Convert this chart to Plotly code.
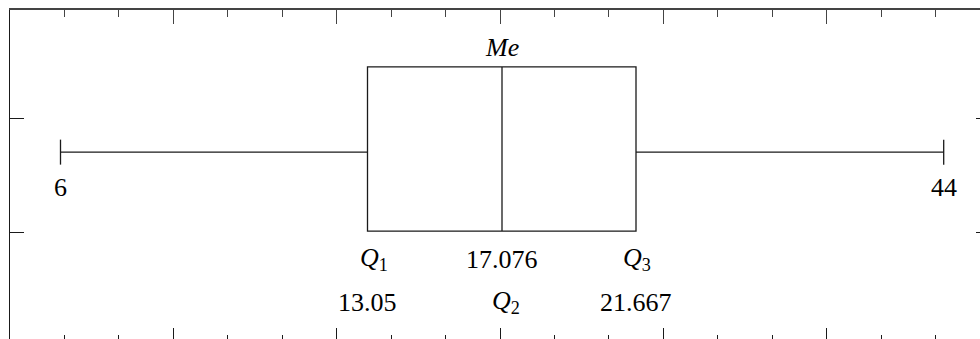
import plotly.graph_objects as go

# Five-number summary shown on the schematic box plot
stat_keys = ["min", "q1", "median", "q3", "max"]
stat_values = [6, 13.05, 17.076, 21.667, 44]
quartile_labels = ["<i>Q</i><sub>1</sub>", "<i>Q</i><sub>2</sub>", "<i>Q</i><sub>3</sub>"]
median_title = "<i>Me</i>"

# --- layout geometry -------------------------------------------------------
FIG_W, FIG_H = 980, 339
L, T = 10, 10
PW, PH = FIG_W - L, FIG_H - T
# horizontal pixel anchor of each summary value (schematic, not to scale)
anchor_px = [60.5, 367.5, 502, 636, 943.7]

# vertical positions as fractions of the plot height
WHISKER_Y = 0.568
CAP_HALF = 0.038
BOX_TOP, BOX_BOT = 0.827, 0.328
ME_Y = 0.885
END_LBL_Y = 0.462
ROW1_Y, ROW2_Y = 0.243, 0.112

FONT = "Liberation Serif, Times New Roman, serif"
INK = "#1a1a1a"
LW = 1.3


def segment_range(i):
    """Linear range for the axis spanning summary values i..i+1."""
    v0, v1 = stat_values[i], stat_values[i + 1]
    p0, p1 = anchor_px[i], anchor_px[i + 1]
    s = (p1 - p0) / (v1 - v0)
    r0 = v0 - (p0 - L) / s
    return [r0, r0 + PW / s]


seg_axes = ["x", "x2", "x3", "x4"]
vmin, q1, med, q3, vmax = stat_values

fig = go.Figure()
line = dict(color=INK, width=LW)

# lower whisker with end cap
fig.add_trace(go.Scatter(
    x=[vmin, q1, None, vmin, vmin],
    y=[WHISKER_Y, WHISKER_Y, None, WHISKER_Y - CAP_HALF, WHISKER_Y + CAP_HALF],
    xaxis="x", yaxis="y", mode="lines", line=line, hoverinfo="skip"))
# left half of the box plus median line
fig.add_trace(go.Scatter(
    x=[med, q1, q1, med, None, med, med],
    y=[BOX_TOP, BOX_TOP, BOX_BOT, BOX_BOT, None, BOX_BOT, BOX_TOP],
    xaxis="x2", yaxis="y", mode="lines", line=line, hoverinfo="skip"))
# right half of the box
fig.add_trace(go.Scatter(
    x=[med, q3, q3, med],
    y=[BOX_TOP, BOX_TOP, BOX_BOT, BOX_BOT],
    xaxis="x3", yaxis="y", mode="lines", line=line, hoverinfo="skip"))
# upper whisker with end cap
fig.add_trace(go.Scatter(
    x=[q3, vmax, None, vmax, vmax],
    y=[WHISKER_Y, WHISKER_Y, None, WHISKER_Y - CAP_HALF, WHISKER_Y + CAP_HALF],
    xaxis="x4", yaxis="y", mode="lines", line=line, hoverinfo="skip"))

big = dict(family=FONT, size=26, color="black")


def note(text, x, xref, y, xshift=0):
    fig.add_annotation(text=text, x=x, xref=xref, y=y, yref="y",
                       showarrow=False, xanchor="center", yanchor="middle",
                       xshift=xshift, font=big)


def fmt(v):
    return f"{v:g}"


note(fmt(vmin), vmin, "x", END_LBL_Y)
note(fmt(vmax), vmax, "x4", END_LBL_Y)
note(median_title, med, "x2", ME_Y)
note(quartile_labels[0], q1, "x2", ROW1_Y, xshift=6)
note(fmt(q1), q1, "x2", ROW2_Y)
note(fmt(med), med, "x2", ROW1_Y)
note(quartile_labels[1], med, "x2", ROW2_Y, xshift=4)
note(quartile_labels[2], q3, "x3", ROW1_Y, xshift=1)
note(fmt(q3), q3, "x3", ROW2_Y)

hidden = dict(visible=False, showgrid=False, zeroline=False)
layout = dict(
    width=FIG_W, height=FIG_H,
    margin=dict(l=L, r=0, t=T, b=0),
    paper_bgcolor="white", plot_bgcolor="white",
    showlegend=False,
    yaxis=dict(range=[0, 1], fixedrange=True, **hidden),
)
for i, ax in enumerate(seg_axes):
    key = "xaxis" if ax == "x" else "xaxis" + ax[1:]
    cfg = dict(range=segment_range(i), anchor="y", **hidden)
    if ax != "x":
        cfg["overlaying"] = "x"
    layout[key] = cfg

# decorative frame: 6 major intervals across the full frame width
FRAME_W = 980
frame_range = [0, 6 * PW / FRAME_W]
frame_color = "#444"
# vertical frame ticks: spacing of 114 px
y_range = [7 / 114, (FIG_H + 7 - T) / 114]

# invisible anchors so the frame axes get drawn
for xa, ya in (("x5", "y2"), ("x6", "y3")):
    fig.add_trace(go.Scatter(x=[1], y=[1], xaxis=xa, yaxis=ya, mode="markers",
                             marker=dict(opacity=0), hoverinfo="skip"))

layout["xaxis5"] = dict(
    overlaying="x", anchor="y2", side="top", range=frame_range,
    showline=True, linecolor=frame_color, linewidth=1.6,
    ticks="inside", ticklen=14, tickwidth=1.3, tickcolor=frame_color,
    dtick=1, tick0=0, showticklabels=False, showgrid=False, zeroline=False,
    minor=dict(dtick=1 / 3, ticks="inside", ticklen=7, tickwidth=1.3,
               tickcolor=frame_color, showgrid=False),
)
layout["xaxis6"] = dict(
    overlaying="x", anchor="y3", side="bottom", range=frame_range,
    showline=False, ticks="inside", ticklen=11, tickwidth=1.1, tickcolor=INK,
    dtick=1, tick0=0, showticklabels=False, showgrid=False, zeroline=False,
    minor=dict(dtick=1 / 3, ticks="inside", ticklen=4, tickwidth=1.1,
               tickcolor=INK, showgrid=False),
)
layout["yaxis2"] = dict(
    overlaying="y", anchor="x5", side="left", range=y_range,
    showline=True, linecolor=INK, linewidth=1.1,
    ticks="inside", ticklen=14, tickwidth=1.1, tickcolor=INK,
    tickvals=[1, 2], showticklabels=False, showgrid=False, zeroline=False,
)
layout["yaxis3"] = dict(
    overlaying="y", anchor="x6", side="right", range=y_range,
    showline=False, ticks="inside", ticklen=4, tickwidth=1.1, tickcolor=INK,
    tickvals=[1, 2], showticklabels=False, showgrid=False, zeroline=False,
)

fig.update_layout(**layout)
fig.write_html("out.html", config={"displayModeBar": False})
